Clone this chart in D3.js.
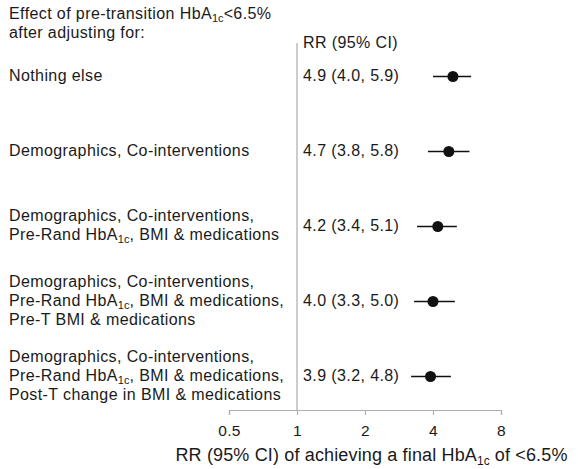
<!DOCTYPE html>
<html>
<head>
<meta charset="utf-8">
<script src="https://cdn.jsdelivr.net/npm/d3@7"></script>
<style>
  html, body { margin: 0; padding: 0; background: #fff; }
  svg { display: block; font-family: "Liberation Sans", Arial, Helvetica, sans-serif; }
</style>
</head>
<body>
<svg id="chart" width="578" height="469"></svg>
<script>
// Adjustment models (text in {braces} is set as subscript)
const modelLabels = [
  ["Nothing else"],
  ["Demographics, Co-interventions"],
  ["Demographics, Co-interventions,", "Pre-Rand HbA{1c}, BMI & medications"],
  ["Demographics, Co-interventions,", "Pre-Rand HbA{1c}, BMI & medications,", "Pre-T BMI & medications"],
  ["Demographics, Co-interventions,", "Pre-Rand HbA{1c}, BMI & medications,", "Post-T change in BMI & medications"]
];
const rr      = [4.9, 4.7, 4.2, 4.0, 3.9];
const ciLower = [4.0, 3.8, 3.4, 3.3, 3.2];
const ciUpper = [5.9, 5.8, 5.1, 5.0, 4.8];
const xTicks  = [0.5, 1, 2, 4, 8];
const titleLines = ["Effect of pre-transition HbA{1c}<6.5%", "after adjusting for:"];
const columnHeader = "RR (95% CI)";
const axisTitle = "RR (95% CI) of achieving a final HbA{1c} of <6.5%";

const svg = d3.select("#chart");
const textColor = "#1a1a1a";
const bodySize = 16, bodySpacing = 0.4;

const x = d3.scaleLog().base(2).domain([0.5, 8]).range([229, 501]);
const y = d3.scalePoint().domain(d3.range(rr.length)).range([76.5, 376.5]);
const axisY = 410;
const lineGap = 19;

// Write a string into a <text>, turning {..} segments into subscripts
function richText(sel, str, subSize) {
  const parts = str.split(/(\{[^}]*\})/).filter(s => s.length);
  let shifted = false;
  parts.forEach(p => {
    if (p.startsWith("{")) {
      sel.append("tspan").attr("dy", 4).attr("font-size", subSize)
        .attr("letter-spacing", 0).text(p.slice(1, -1));
      shifted = true;
    } else {
      const t = sel.append("tspan").text(p);
      if (shifted) { t.attr("dy", -4); shifted = false; }
    }
  });
}

function bodyText(px, py) {
  return svg.append("text")
    .attr("x", px).attr("y", py)
    .attr("dominant-baseline", "middle")
    .attr("font-size", bodySize)
    .attr("letter-spacing", bodySpacing)
    .attr("fill", textColor);
}

// Heading above the model labels
titleLines.forEach((line, i) => richText(bodyText(9, 15 + i * lineGap), line, 11));

bodyText(303, 44).text(columnHeader);

// Reference line at RR = 1
svg.append("line")
  .attr("x1", x(1)).attr("x2", x(1))
  .attr("y1", 43).attr("y2", axisY)
  .attr("stroke", "#bdbdbd").attr("stroke-width", 1.5);

// Model labels (multi-line, centred on the row)
modelLabels.forEach((lines, i) => {
  const top = y(i) - (lines.length - 1) * lineGap / 2;
  lines.forEach((line, j) => richText(bodyText(9, top + j * lineGap), line, 11));
});

// RR (95% CI) text column
rr.forEach((d, i) => {
  bodyText(303, y(i)).text(`${d.toFixed(1)} (${ciLower[i].toFixed(1)}, ${ciUpper[i].toFixed(1)})`);
});

// Confidence intervals and point estimates
const marks = svg.append("g");
marks.selectAll("line")
  .data(rr)
  .join("line")
  .attr("x1", (d, i) => x(ciLower[i]))
  .attr("x2", (d, i) => x(ciUpper[i]))
  .attr("y1", (d, i) => y(i)).attr("y2", (d, i) => y(i))
  .attr("stroke", "#111").attr("stroke-width", 1.6);
marks.selectAll("circle")
  .data(rr)
  .join("circle")
  .attr("cx", d => x(d)).attr("cy", (d, i) => y(i))
  .attr("r", 5.5).attr("fill", "#111");

// Log-scale x axis
const axis = svg.append("g")
  .attr("transform", `translate(0,${axisY})`)
  .call(d3.axisBottom(x).tickValues(xTicks).tickFormat(d3.format("")).tickSizeOuter(0).tickSize(5).tickPadding(10));
axis.select(".domain").attr("stroke", "#b0b0b0").attr("stroke-width", 1.2);
axis.selectAll(".tick line").attr("stroke", "#b0b0b0").attr("stroke-width", 1.2);
axis.selectAll(".tick text")
  .attr("font-size", 15.5)
  .attr("letter-spacing", 0.3)
  .attr("font-family", "Liberation Sans, Arial, sans-serif")
  .attr("fill", textColor);

const at = svg.append("text")
  .attr("x", 371.5).attr("y", 461)
  .attr("text-anchor", "middle")
  .attr("font-size", 18)
  .attr("letter-spacing", 0.15)
  .attr("fill", textColor);
richText(at, axisTitle, 12);
</script>
</body>
</html>
